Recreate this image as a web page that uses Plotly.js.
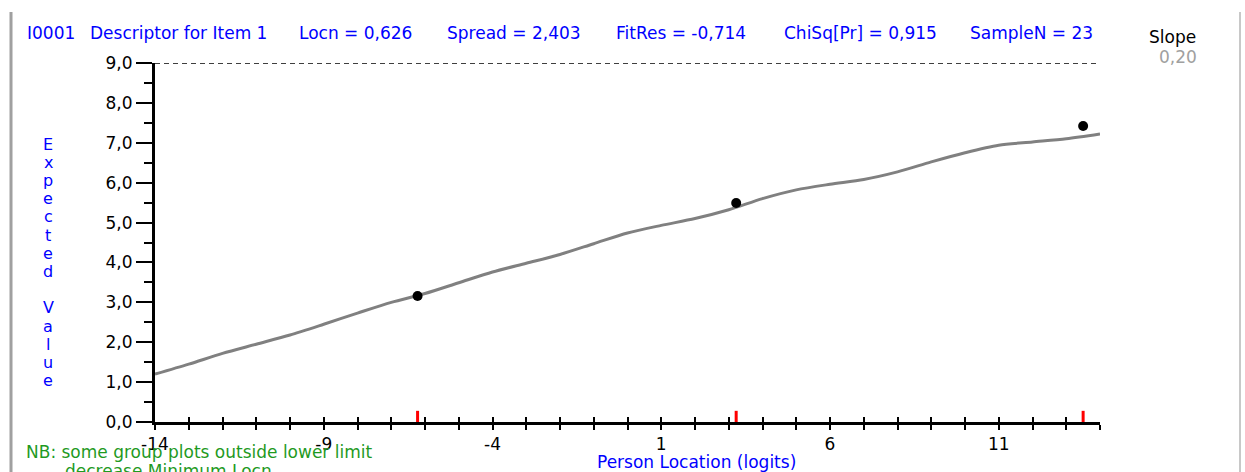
<!DOCTYPE html>
<html>
<head>
<meta charset="utf-8">
<script src="https://cdn.plot.ly/plotly-3.0.1.min.js"></script>
<style>
html,body{margin:0;padding:0;background:#fff;}
#chart{width:1245px;height:472px;}
</style>
</head>
<body>
<div id="chart"></div>
<script>
// ---- data ----
const curveX = [-14,-13,-12,-11,-10,-9,-8,-7,-6,-5,-4,-3,-2,-1,0,1,2,3,4,5,6,7,8,9,10,11,12,13,14];
const curveY = [1.20,1.45,1.72,1.95,2.18,2.45,2.73,3.00,3.22,3.49,3.76,3.98,4.20,4.47,4.74,4.93,5.10,5.32,5.60,5.82,5.96,6.08,6.27,6.52,6.75,6.94,7.02,7.10,7.22];
const groupX = [-6.22, 3.22, 13.5];
const groupY = [3.16, 5.49, 7.42];
const upperLimit = 9;
const xTickVals = [-14, -9, -4, 1, 6, 11];
const xTickLabels = ["-14", "-9", "-4", "1", "6", "11"];
const headerLabels = ["I0001", "Descriptor for Item 1", "Locn = 0,626", "Spread = 2,403", "FitRes = -0,714", "ChiSq[Pr] = 0,915", "SampleN = 23"];
const headerPos = [25, 88, 297, 445, 614, 782, 968];
const yTitle = "Expected Value";
const xTitle = "Person Location (logits)";
const noteLines = ["NB: some group plots outside lower limit", "decrease Minimum Locn"];
const slopeLabel = "Slope";
const slopeValue = "0,20";

const FONT = "DejaVu Sans, Verdana, sans-serif";
const W = 1245, H = 472;

const traces = [
  {x: curveX, y: curveY, mode: 'lines', line: {color: '#808080', width: 3, shape: 'spline', smoothing: 0.8},
   hoverinfo: 'skip', showlegend: false},
  {x: groupX, y: groupY, mode: 'markers', marker: {color: '#000', size: 10},
   showlegend: false},
  {x: [null], y: [null], xaxis: 'x2', yaxis: 'y', showlegend: false}
];

const shapes = [];
// upper-limit dashed line
shapes.push({type: 'line', xref: 'x', yref: 'y', x0: -14, x1: 13.9, y0: upperLimit, y1: upperLimit,
  line: {color: '#000', width: 1.3, dash: '5px,4px'}});
// red group location marks on the x axis
groupX.forEach(gx => {
  shapes.push({type: 'line', xref: 'x', yref: 'y', x0: gx, x1: gx, y0: 0, y1: 0.28,
    line: {color: '#ff0000', width: 3}});
});
// window frame lines
shapes.push({type: 'line', xref: 'paper', yref: 'paper', x0: -144/945, x1: -144/945, y0: -50/359, y1: 1 + 51/359,
  line: {color: '#a0a0a0', width: 3}});
shapes.push({type: 'line', xref: 'paper', yref: 'paper', x0: 1 + 140/945, x1: 1 + 140/945, y0: -50/359, y1: 1 + 51/359,
  line: {color: '#c8c8c8', width: 2}});

const pxX = px => (px - 155) / 945;
const pxY = py => (422 - py) / 359;

const annotations = [];
headerLabels.forEach((t, i) => {
  annotations.push({text: t, xref: 'paper', yref: 'paper', x: pxX(headerPos[i]), y: pxY(33),
    xanchor: 'left', yanchor: 'middle', showarrow: false, font: {family: FONT, size: 17, color: '#0000ff'}});
});
// vertical stacked y-axis title, one letter per line
yTitle.split('').forEach((c, i) => {
  if (c === ' ') return;
  annotations.push({text: c, xref: 'paper', yref: 'paper', x: pxX(48), y: pxY(144 + i * 18.2),
    xanchor: 'center', yanchor: 'middle', showarrow: false, font: {family: FONT, size: 16, color: '#0000ff'}});
});
annotations.push({text: xTitle, xref: 'paper', yref: 'paper', x: pxX(696), y: pxY(462),
  xanchor: 'center', yanchor: 'middle', showarrow: false, font: {family: FONT, size: 17, color: '#0000ff'}});
annotations.push({text: noteLines[0], xref: 'paper', yref: 'paper', x: pxX(24), y: pxY(452),
  xanchor: 'left', yanchor: 'middle', showarrow: false, font: {family: FONT, size: 17, color: '#1f9a1f'}});
annotations.push({text: noteLines[1], xref: 'paper', yref: 'paper', x: pxX(63), y: pxY(471),
  xanchor: 'left', yanchor: 'middle', showarrow: false, font: {family: FONT, size: 17, color: '#1f9a1f'}});
annotations.push({text: slopeLabel, xref: 'paper', yref: 'paper', x: pxX(1172), y: pxY(37),
  xanchor: 'center', yanchor: 'middle', showarrow: false, font: {family: FONT, size: 17, color: '#000'}});
annotations.push({text: slopeValue, xref: 'paper', yref: 'paper', x: pxX(1178), y: pxY(57),
  xanchor: 'center', yanchor: 'middle', showarrow: false, font: {family: FONT, size: 17, color: '#a0a0a0'}});

const layout = {
  width: W, height: H,
  margin: {l: 155, r: 145, t: 63, b: 50, pad: 0},
  paper_bgcolor: '#fff', plot_bgcolor: '#fff',
  separators: ',.',
  showlegend: false,
  font: {family: FONT, size: 17, color: '#000'},
  xaxis: {range: [-14, 14], showgrid: false, zeroline: false, showline: true, linecolor: '#000', linewidth: 3,
    tickmode: 'array', tickvals: xTickVals, ticktext: xTickLabels, ticks: 'outside', ticklen: 5, tickwidth: 2, tickcolor: '#000',
    minor: {tickmode: 'linear', tick0: -14, dtick: 1, ticks: 'outside', ticklen: 5, tickwidth: 2, tickcolor: '#000'},
    tickfont: {family: FONT, size: 17, color: '#000'}, fixedrange: true},
  xaxis2: {range: [-14, 14], overlaying: 'x', anchor: 'y', side: 'bottom', showgrid: false, zeroline: false,
    showline: false, showticklabels: false,
    tickmode: 'linear', tick0: -14, dtick: 1, ticks: 'inside', ticklen: 5, tickwidth: 2, tickcolor: '#000'},
  yaxis: {range: [0, 9], showgrid: false, zeroline: false, showline: true, linecolor: '#000', linewidth: 3,
    tickmode: 'linear', tick0: 0, dtick: 1, tickformat: '.1f', ticks: 'outside', ticklen: 16, tickwidth: 2, tickcolor: '#000',
    minor: {tickmode: 'linear', tick0: 0, dtick: 0.5, ticks: 'outside', ticklen: 8, tickwidth: 2, tickcolor: '#000'},
    tickfont: {family: FONT, size: 17, color: '#000'}, fixedrange: true},
  shapes: shapes,
  annotations: annotations
};

Plotly.newPlot('chart', traces, layout, {displayModeBar: false, staticPlot: true});
</script>
</body>
</html>
